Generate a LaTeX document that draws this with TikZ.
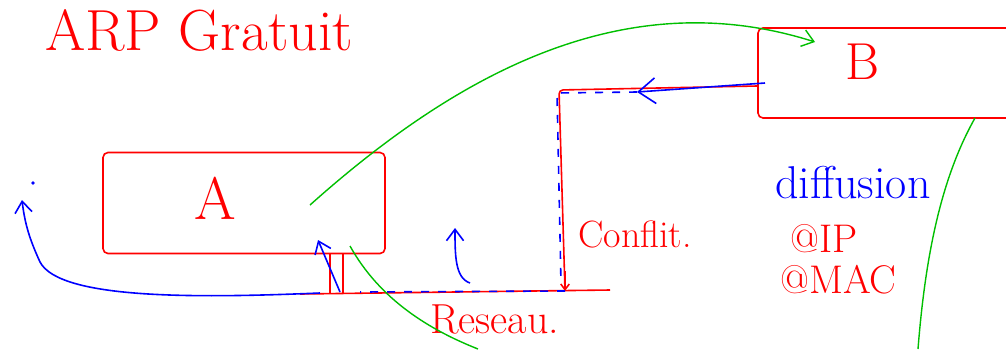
\documentclass[tikz,border=0pt]{standalone}
\usepackage{tikz}
\usetikzlibrary{arrows.meta,positioning,calc}
\tikzset{
  hostbox/.style={draw=red, line width=1.6pt, rounded corners=5pt},
  wire/.style={draw=red, line width=1.6pt},
  redtext/.style={text=red, inner sep=0pt},
  bluetext/.style={text=blue, inner sep=0pt},
  bluearrow/.style={draw=blue, line width=1.6pt, -{Straight Barb[length=4mm,width=6mm]}},
  bluedash/.style={draw=blue, line width=1.6pt, dash pattern=on 8pt off 9pt},
  greenline/.style={draw=green!75!black, line width=1.4pt}
}

\begin{document}
\begin{tikzpicture}[x=1pt, y=-1pt]
  \useasboundingbox (0,0) rectangle (1006,349);

  % title
  \node[redtext, anchor=base west, font=\fontsize{58}{58}\selectfont] (title) at (45,50) {ARP Gratuit};

  % hosts
  \node[hostbox, minimum width=282pt, minimum height=101pt] (boxA) at (244,203) {};
  \node[redtext, font=\fontsize{60}{60}\selectfont] (labelA) at (215,198) {A};
  \node[hostbox, minimum width=300pt, minimum height=90pt] (boxB) at (908,73) {};
  \node[redtext, font=\fontsize{52}{52}\selectfont] (labelB) at (862,62) {B};

  % network
  \coordinate (netW) at (300,294);
  \coordinate (netE) at (610,290);
  \draw[wire] (netW) -- (netE);
  \node[redtext, anchor=base west, font=\fontsize{42}{42}\selectfont] (reseau) at (430,333) {Reseau.};

  % links to the network
  \coordinate (portA1) at (330,254);
  \coordinate (portA2) at (343,254);
  \draw[wire] (portA1) -- (portA1 |- netW);
  \draw[wire] (portA2) -- (portA2 |- netW);
  \coordinate (portB) at (757,86);
  \coordinate (cornerB) at (559,90);
  \coordinate (netB) at (565,291);
  \draw[wire, rounded corners=4pt] (portB) -- (cornerB) -- (netB);
  \draw[wire, -{Straight Barb[length=2mm,width=3mm]}] ($(netB)+(0,-20)$) -- (netB);
  \node[redtext, anchor=base west, font=\fontsize{38}{38}\selectfont] (conflit) at (578,247) {Conflit.};

  % request from B
  \draw[bluearrow, -{Straight Barb[length=6mm,width=9mm]}] (765,83) -- (637,92);
  \draw[bluedash] (637,92) -- (557,93) -- (561,284);
  \draw[bluedash] (netB) -- (360,292);
  \draw[bluearrow] (340,292) -- (318,240);
  \draw[bluearrow] (320,293) .. controls (200,298) and (60,300) .. (40,262) .. controls (30,240) and (25,225) .. (22,200);
  \draw[bluearrow] (470,283) .. controls (455,278) and (455,255) .. (455,228);
  \fill[blue] (33,183) circle (1.8pt);

  % green flow
  \draw[greenline, -{Straight Barb[length=4mm,width=6mm]}] (310,205) .. controls (450,80) and (620,-20) .. (815,42);
  \draw[greenline] (350,246) .. controls (380,300) and (430,330) .. (478,349);
  \draw[greenline] (975,118) .. controls (940,180) and (925,260) .. (918,349);

  % broadcast note
  \node[bluetext, anchor=base west, font=\fontsize{46}{46}\selectfont] (diffusion) at (775,198) {diffusion};
  \node[redtext, anchor=base west, font=\fontsize{40}{40}\selectfont] (addrIP) at (790,252) {@IP};
  \node[redtext, anchor=base west, font=\fontsize{40}{40}\selectfont] (addrMAC) at (780,293) {@MAC};
\end{tikzpicture}
\end{document}
